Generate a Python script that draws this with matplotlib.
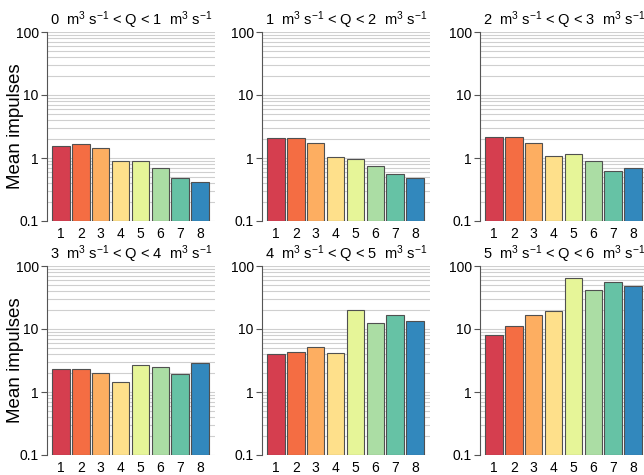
import numpy as np
import matplotlib
matplotlib.use("Agg")
import matplotlib.pyplot as plt
from matplotlib.ticker import LogLocator, FixedLocator, NullFormatter

plt.rcParams['font.family'] = ['Liberation Sans', 'DejaVu Sans']
plt.rcParams['mathtext.default'] = 'regular'

# sites along the channel
sites = [1, 2, 3, 4, 5, 6, 7, 8]
# discharge classes (lower, upper) in m3/s
q_low = [0, 1, 2, 3, 4, 5]
q_high = [1, 2, 3, 4, 5, 6]

# mean impulses per discharge class
q0_1 = [1.57, 1.64, 1.44, 0.90, 0.88, 0.70, 0.49, 0.42]
q1_2 = [2.05, 2.10, 1.71, 1.02, 0.96, 0.75, 0.55, 0.48]
q2_3 = [2.18, 2.18, 1.75, 1.07, 1.17, 0.89, 0.63, 0.69]
q3_4 = [2.29, 2.32, 2.03, 1.46, 2.68, 2.52, 1.93, 2.85]
q4_5 = [3.96, 4.31, 5.12, 4.16, 20.3, 12.4, 16.5, 13.2]
q5_6 = [7.93, 11.2, 16.5, 19.5, 63.7, 41.6, 55.7, 48.2]
panels = [q0_1, q1_2, q2_3, q3_4, q4_5, q5_6]

# RColorBrewer Spectral, 8 classes
cols = ["#D53E4F", "#F46D43", "#FDAE61", "#FEE08B",
        "#E6F598", "#ABDDA4", "#66C2A5", "#3288BD"]

W, H = 644, 475
fig = plt.figure(figsize=(W / 100, H / 100), dpi=100)

lefts = [47, 262, 480]
tops = [32, 266]
aw, ah = 168, 189

for k, vals in enumerate(panels):
    r, c = divmod(k, 3)
    ax = fig.add_axes([lefts[c] / W, (H - tops[r] - ah) / H, aw / W, ah / H])
    ax.set_yscale('log')
    ax.set_ylim(0.1, 100)
    ax.set_xlim(0.29, 8.76)
    ax.set_axisbelow(True)
    ax.bar(sites, np.array(vals) - 0.1, bottom=0.1, width=0.87, color=cols,
           edgecolor='#505050', linewidth=0.8)

    ax.yaxis.set_major_locator(FixedLocator([0.1, 1, 10, 100]))
    ax.set_yticklabels(['0.1', '1', '10', '100'])
    ax.yaxis.set_minor_locator(LogLocator(base=10, subs=np.arange(2, 10)))
    ax.yaxis.set_minor_formatter(NullFormatter())
    ax.grid(which='both', axis='y', color='#cfcfcf', linewidth=0.8)
    ax.tick_params(axis='y', which='major', length=4, width=0.8,
                   color='#555555', labelsize=10, pad=2)
    ax.tick_params(axis='y', which='minor', length=0)
    ax.set_xticks(sites)
    ax.tick_params(axis='x', length=0, labelsize=10, pad=4)

    for s in ['top', 'right', 'bottom']:
        ax.spines[s].set_visible(False)
    ax.spines['left'].set_color('#555555')
    ax.spines['left'].set_linewidth(0.8)

    ax.set_title(r"%d  m$^3$ s$^{-1}$ < Q < %d  m$^3$ s$^{-1}$" % (q_low[k], q_high[k]),
                 fontsize=10.5, pad=5)
    if c == 0:
        yc = 1 - (tops[r] + ah / 2) / H
        fig.text(16 / W, yc, 'Mean impulses', rotation=90, fontsize=13.5,
                 ha='center', va='center')

fig.savefig('out.png', dpi=100)
